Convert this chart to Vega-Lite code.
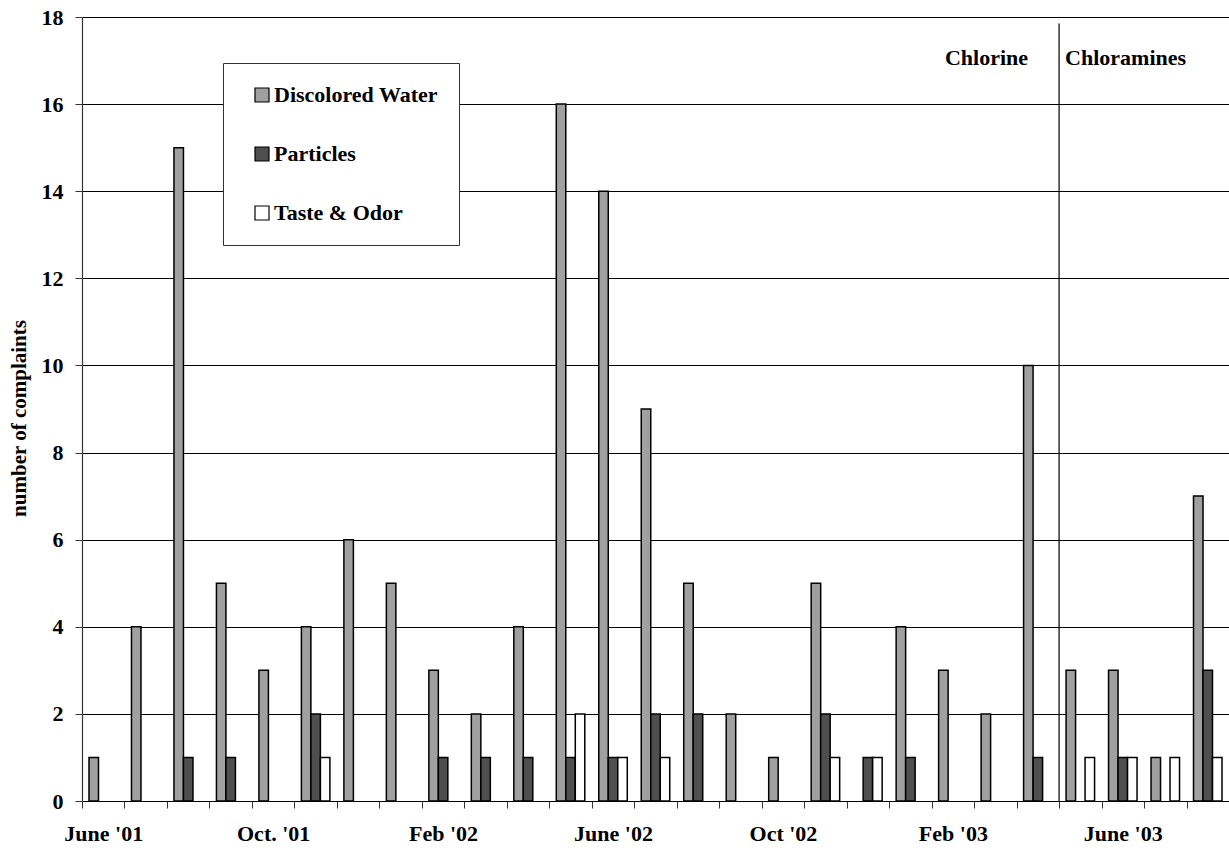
{
  "$schema": "https://vega.github.io/schema/vega-lite/v6.json",
  "width": 1147,
  "height": 784,
  "autosize": {"type": "none"},
  "padding": {"left": 82, "top": 17, "right": 0, "bottom": 47},
  "background": "white",
  "config": {"view": {"stroke": null}, "font": "Liberation Serif"},
  "layer": [
    {
      "data": {
        "values": [
          {"month": "June '01", "type": "Discolored Water", "count": 1},
          {"month": "July '01", "type": "Discolored Water", "count": 4},
          {"month": "Aug '01", "type": "Discolored Water", "count": 15},
          {"month": "Aug '01", "type": "Particles", "count": 1},
          {"month": "Sept '01", "type": "Discolored Water", "count": 5},
          {"month": "Sept '01", "type": "Particles", "count": 1},
          {"month": "Oct. '01", "type": "Discolored Water", "count": 3},
          {"month": "Nov '01", "type": "Discolored Water", "count": 4},
          {"month": "Nov '01", "type": "Particles", "count": 2},
          {"month": "Nov '01", "type": "Taste & Odor", "count": 1},
          {"month": "Dec '01", "type": "Discolored Water", "count": 6},
          {"month": "Jan '02", "type": "Discolored Water", "count": 5},
          {"month": "Feb '02", "type": "Discolored Water", "count": 3},
          {"month": "Feb '02", "type": "Particles", "count": 1},
          {"month": "Mar '02", "type": "Discolored Water", "count": 2},
          {"month": "Mar '02", "type": "Particles", "count": 1},
          {"month": "Apr '02", "type": "Discolored Water", "count": 4},
          {"month": "Apr '02", "type": "Particles", "count": 1},
          {"month": "May '02", "type": "Discolored Water", "count": 16},
          {"month": "May '02", "type": "Particles", "count": 1},
          {"month": "May '02", "type": "Taste & Odor", "count": 2},
          {"month": "June '02", "type": "Discolored Water", "count": 14},
          {"month": "June '02", "type": "Particles", "count": 1},
          {"month": "June '02", "type": "Taste & Odor", "count": 1},
          {"month": "July '02", "type": "Discolored Water", "count": 9},
          {"month": "July '02", "type": "Particles", "count": 2},
          {"month": "July '02", "type": "Taste & Odor", "count": 1},
          {"month": "Aug '02", "type": "Discolored Water", "count": 5},
          {"month": "Aug '02", "type": "Particles", "count": 2},
          {"month": "Sept '02", "type": "Discolored Water", "count": 2},
          {"month": "Oct '02", "type": "Discolored Water", "count": 1},
          {"month": "Nov '02", "type": "Discolored Water", "count": 5},
          {"month": "Nov '02", "type": "Particles", "count": 2},
          {"month": "Nov '02", "type": "Taste & Odor", "count": 1},
          {"month": "Dec '02", "type": "Particles", "count": 1},
          {"month": "Dec '02", "type": "Taste & Odor", "count": 1},
          {"month": "Jan '03", "type": "Discolored Water", "count": 4},
          {"month": "Jan '03", "type": "Particles", "count": 1},
          {"month": "Feb '03", "type": "Discolored Water", "count": 3},
          {"month": "Mar '03", "type": "Discolored Water", "count": 2},
          {"month": "Apr '03", "type": "Discolored Water", "count": 10},
          {"month": "Apr '03", "type": "Particles", "count": 1},
          {"month": "May '03", "type": "Discolored Water", "count": 3},
          {"month": "May '03", "type": "Taste & Odor", "count": 1},
          {"month": "June '03", "type": "Discolored Water", "count": 3},
          {"month": "June '03", "type": "Particles", "count": 1},
          {"month": "June '03", "type": "Taste & Odor", "count": 1},
          {"month": "July '03", "type": "Discolored Water", "count": 1},
          {"month": "July '03", "type": "Taste & Odor", "count": 1},
          {"month": "Aug '03", "type": "Discolored Water", "count": 7},
          {"month": "Aug '03", "type": "Particles", "count": 3},
          {"month": "Aug '03", "type": "Taste & Odor", "count": 1}
        ]
      },
      "mark": {"type": "bar", "stroke": "black", "strokeWidth": 1.5},
      "encoding": {
        "x": {
          "field": "month",
          "type": "nominal",
          "sort": null,
          "scale": {
            "domain": ["June '01", "July '01", "Aug '01", "Sept '01", "Oct. '01", "Nov '01", "Dec '01", "Jan '02", "Feb '02", "Mar '02", "Apr '02", "May '02", "June '02", "July '02", "Aug '02", "Sept '02", "Oct '02", "Nov '02", "Dec '02", "Jan '03", "Feb '03", "Mar '03", "Apr '03", "May '03", "June '03", "July '03", "Aug '03"],
            "paddingInner": 0,
            "paddingOuter": 0
          },
          "axis": {
            "title": null,
            "labelAngle": 0,
            "labelFont": "Liberation Serif",
            "labelFontWeight": "bold",
            "labelFontSize": 22,
            "labelColor": "black",
            "labelPadding": 15,
            "labelOverlap": false,
            "labelLimit": 300,
            "tickBand": "extent",
            "tickSize": 7,
            "tickColor": "#333333",
            "domainColor": "black",
            "domainWidth": 1,
            "grid": false,
            "labelExpr": "indexof([\"June '01\", \"Oct. '01\", \"Feb '02\", \"June '02\", \"Oct '02\", \"Feb '03\", \"June '03\"], datum.value) >= 0 ? datum.value : ''"
          }
        },
        "xOffset": {
          "field": "type",
          "type": "nominal",
          "scale": {
            "domain": ["Discolored Water", "Particles", "Taste & Odor"],
            "paddingInner": 0,
            "paddingOuter": 0.736
          }
        },
        "y": {
          "field": "count",
          "type": "quantitative",
          "scale": {"domain": [0, 18], "nice": false},
          "axis": {
            "values": [0, 2, 4, 6, 8, 10, 12, 14, 16, 18],
            "grid": true,
            "gridColor": "black",
            "gridWidth": 1,
            "domainColor": "#333333",
            "domainWidth": 1.2,
            "tickSize": 7,
            "tickColor": "#333333",
            "labelFont": "Liberation Serif",
            "labelFontWeight": "bold",
            "labelFontSize": 22,
            "labelColor": "black",
            "labelPadding": 12,
            "title": "number of complaints",
            "titleFont": "Liberation Serif",
            "titleFontWeight": "bold",
            "titleFontSize": 21,
            "titleColor": "black",
            "titleAngle": -90,
            "titleAlign": "center",
            "titleBaseline": "middle",
            "titleX": -63,
            "titleY": 401
          }
        },
        "color": {
          "field": "type",
          "type": "nominal",
          "scale": {
            "domain": ["Discolored Water", "Particles", "Taste & Odor"],
            "range": ["#a0a0a0", "#4f4f4f", "#ffffff"]
          },
          "legend": {
            "orient": "none",
            "legendX": 141,
            "legendY": 46,
            "title": null,
            "direction": "vertical",
            "padding": 21,
            "rowPadding": 37,
            "symbolType": "square",
            "symbolSize": 196,
            "symbolStrokeColor": "black",
            "symbolStrokeWidth": 1.2,
            "symbolOffset": 7,
            "labelOffset": 1,
            "labelLimit": 400,
            "labelFont": "Liberation Serif",
            "labelFontWeight": "bold",
            "labelFontSize": 22,
            "labelColor": "black",
            "strokeColor": "#333333",
            "fillColor": "white"
          }
        }
      }
    },
    {
      "data": {"values": [{"month": "May '03"}]},
      "mark": {"type": "rule", "color": "black", "strokeWidth": 1.2},
      "encoding": {
        "x": {"field": "month", "type": "nominal", "bandPosition": 0},
        "y": {"datum": 17.85, "type": "quantitative"},
        "y2": {"datum": 0}
      }
    },
    {
      "data": {"values": [{"month": "May '03", "label": "Chlorine"}]},
      "mark": {"type": "text", "align": "right", "baseline": "middle", "dx": -31, "font": "Liberation Serif", "fontWeight": "bold", "fontSize": 22, "color": "black"},
      "encoding": {
        "x": {"field": "month", "type": "nominal", "bandPosition": 0},
        "y": {"datum": 17.05, "type": "quantitative"},
        "text": {"field": "label"}
      }
    },
    {
      "data": {"values": [{"month": "May '03", "label": "Chloramines"}]},
      "mark": {"type": "text", "align": "left", "baseline": "middle", "dx": 6, "font": "Liberation Serif", "fontWeight": "bold", "fontSize": 22, "color": "black"},
      "encoding": {
        "x": {"field": "month", "type": "nominal", "bandPosition": 0},
        "y": {"datum": 17.05, "type": "quantitative"},
        "text": {"field": "label"}
      }
    }
  ]
}
